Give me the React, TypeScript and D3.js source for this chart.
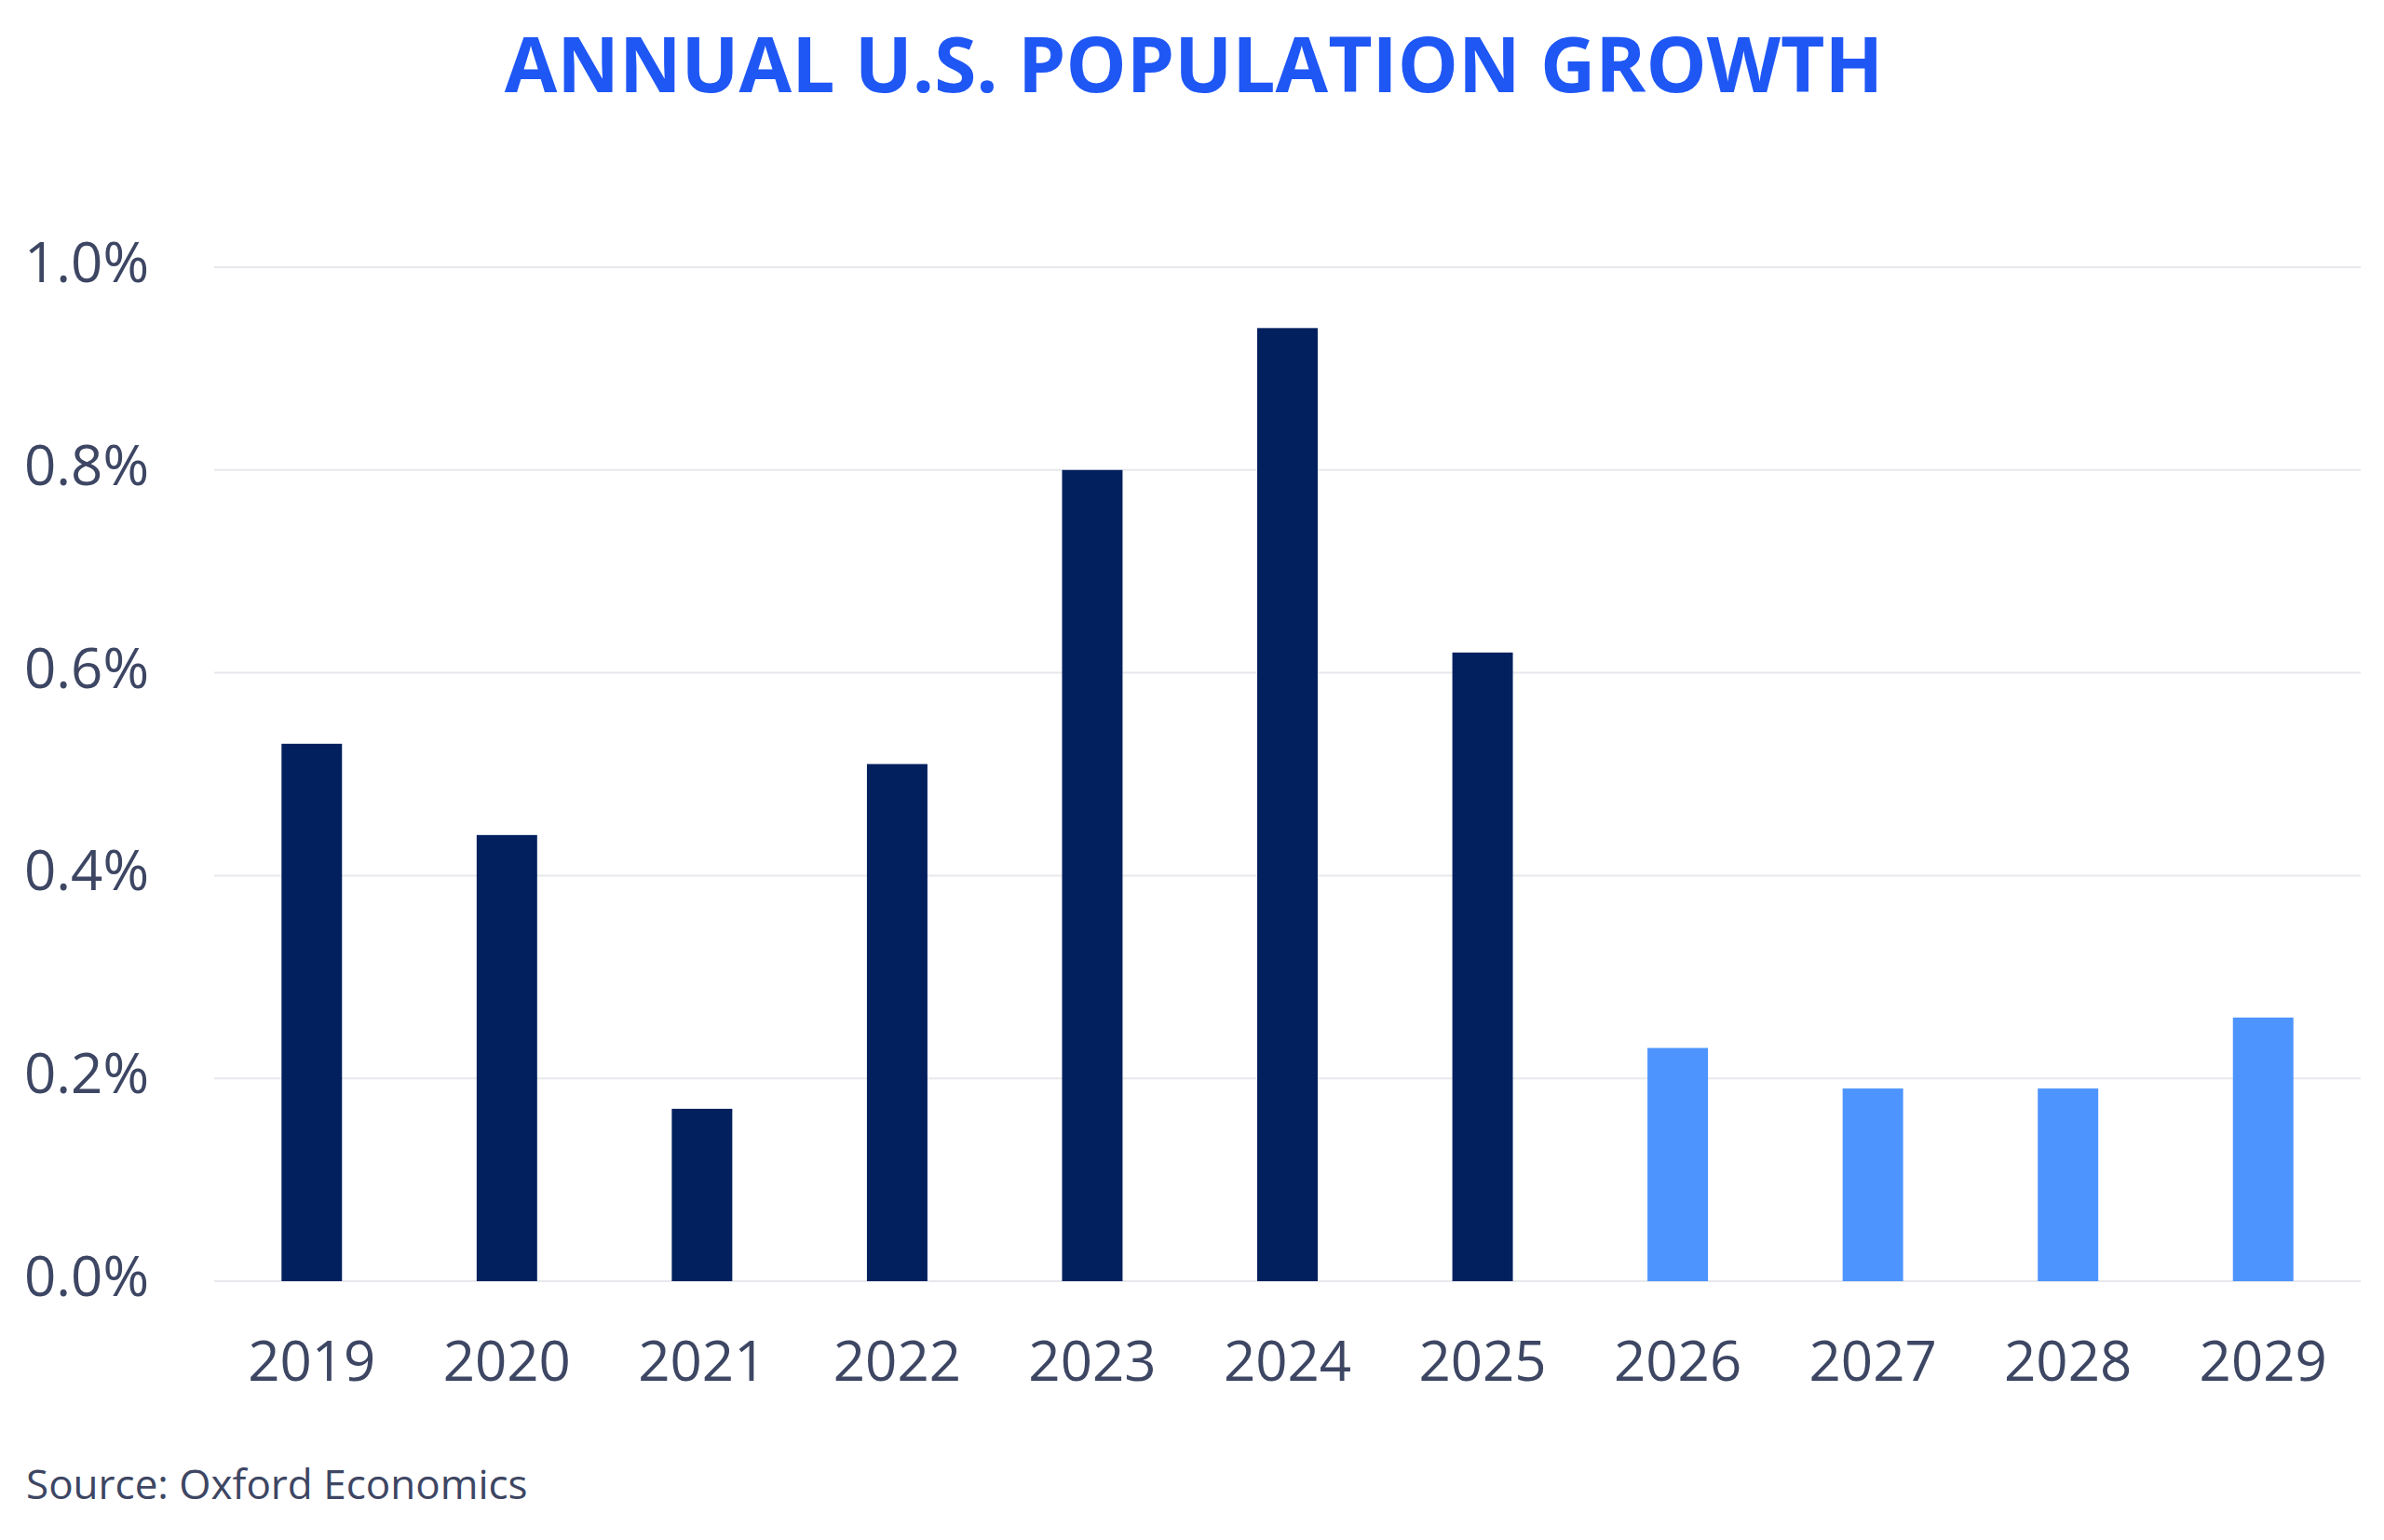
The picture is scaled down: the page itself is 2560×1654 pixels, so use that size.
import React from 'react';
import * as d3 from 'd3';

const years = ['2019', '2020', '2021', '2022', '2023', '2024', '2025', '2026', '2027', '2028', '2029'];
const growth = [0.53, 0.44, 0.17, 0.51, 0.80, 0.94, 0.62, 0.23, 0.19, 0.19, 0.26];
const forecast = [false, false, false, false, false, false, false, true, true, true, true];
const yTicks = [0, 0.2, 0.4, 0.6, 0.8, 1.0];

const App = () => {
  const width = 2560;
  const height = 1654;
  const font = '"Open Sans", "Noto Sans", sans-serif';

  const x = d3.scaleBand().domain(years).range([230, 2535]).paddingInner(0.69).paddingOuter(0.345);
  const y = d3.scaleLinear().domain([0, 1]).range([1376, 287]);

  return (
    <svg width={width} height={height} style={{ position: 'absolute', left: 0, top: 0, background: '#fff' }}>
      <text x={1282} y={77} textAnchor="middle" dominantBaseline="middle" fontFamily={font} fontWeight={700}
        fontSize={82} fill="#1f57f5">ANNUAL U.S. POPULATION GROWTH</text>

      {yTicks.map((t) => (
        <g key={t}>
          <line x1={230} x2={2535} y1={y(t)} y2={y(t)} stroke="#e6e8ec" strokeWidth={2} />
          <text x={26} y={y(t)} dominantBaseline="middle" fontFamily={font} fontSize={60} fill="#3d4663">
            {t.toFixed(1)}%
          </text>
        </g>
      ))}

      {years.map((yr, i) => (
        <rect key={yr} x={x(yr)} y={y(growth[i])} width={x.bandwidth()} height={y(0) - y(growth[i])}
          fill={forecast[i] ? '#4d94ff' : '#02205e'} />
      ))}

      {years.map((yr) => (
        <text key={yr} x={x(yr)! + x.bandwidth() / 2} y={1467} textAnchor="middle" dominantBaseline="middle"
          fontFamily={font} fontSize={60} fill="#3d4663">{yr}</text>
      ))}

      <text x={28} y={1598} dominantBaseline="middle" fontFamily={font} fontSize={44} fill="#3d4663">
        Source: Oxford Economics
      </text>
    </svg>
  );
};

export default App;
